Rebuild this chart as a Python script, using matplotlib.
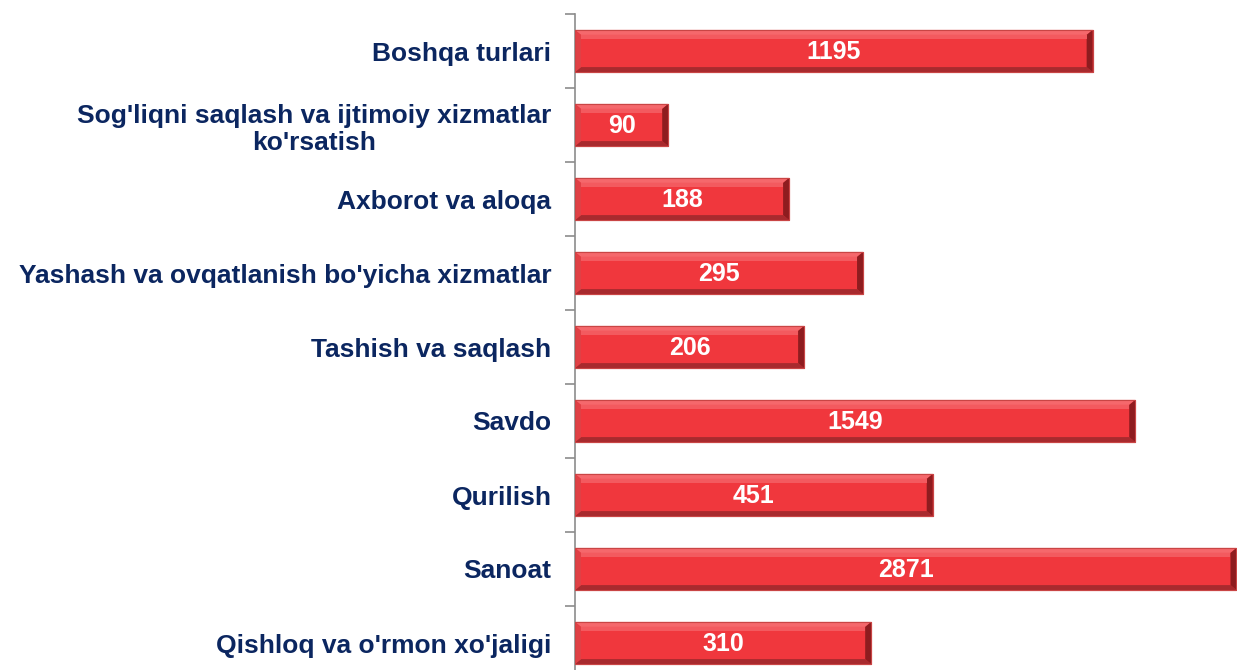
import matplotlib
matplotlib.use("Agg")
import matplotlib.pyplot as plt
from matplotlib.patches import Polygon
import numpy as np

categories = ["Boshqa turlari",
              "Sog'liqni saqlash va ijtimoiy xizmatlar\nko'rsatish",
              "Axborot va aloqa",
              "Yashash va ovqatlanish bo'yicha xizmatlar",
              "Tashish va saqlash",
              "Savdo",
              "Qurilish",
              "Sanoat",
              "Qishloq va o'rmon xo'jaligi"]
values = [1195, 90, 188, 295, 206, 1549, 451, 2871, 310]

plt.rcParams['font.family'] = ['Liberation Sans', 'DejaVu Sans']

W, H = 1237, 670
fig = plt.figure(figsize=(W/100, H/100), dpi=100)
ax_left = 575 / W
ax_top = 1 - 14 / H
ax_bot = 1 - 680 / H
ax = fig.add_axes([ax_left, ax_bot, 1 - ax_left, ax_top - ax_bot])

base = 51.0
xmax = 2880.0
ax.set_xscale('log')
ax.set_xlim(base, xmax)
n = len(categories)
ax.set_ylim(n - 0.5, -0.5)

bh = 0.57
y = np.arange(n)
bars = ax.barh(y, [v - base for v in values], left=base, height=bh,
               color='#F0373D', edgecolor='#C94545', linewidth=0.8, zorder=2)

# bevel decoration (pixel sizes converted to data units)
px_per_dec = (1 - ax_left) * W / np.log10(xmax / base)
px_per_unit = (ax_top - ax_bot) * H / n
bx = 10 ** (6 / px_per_dec)
by = 5 / px_per_unit
for yi, v in zip(y, values):
    x0, x1 = base, v
    xi0, xi1 = base * bx, v / bx
    yt, yb = yi - bh / 2, yi + bh / 2
    yti, ybi = yt + by, yb - by
    polys = [
        ([(x0, yt), (x1, yt), (xi1, yti), (xi0, yti)], '#F5686C'),   # top
        ([(x0, yb), (x1, yb), (xi1, ybi), (xi0, ybi)], '#A82A2E'),   # bottom
        ([(x0, yt), (xi0, yti), (xi0, ybi), (x0, yb)], '#E04045'),   # left
        ([(x1, yt), (xi1, yti), (xi1, ybi), (x1, yb)], '#8E1C1F'),   # right
    ]
    for pts, c in polys:
        ax.add_patch(Polygon(pts, closed=True, facecolor=c, edgecolor='none', zorder=3))
    ax.add_patch(Polygon([(xi0, yti), (xi1, yti), (xi1, yti + 0.06), (xi0, yti + 0.06)],
                         closed=True, facecolor='#F35A5F', edgecolor='none', zorder=3))
    ax.add_patch(Polygon([(x0, yt), (x1, yt), (x1, yb), (x0, yb)], closed=True,
                         facecolor='none', edgecolor='#C94545', linewidth=0.8, zorder=4))
    xc = np.sqrt(base * v)
    ax.text(xc, yi + 0.02, str(v), ha='center', va='center', color='white',
            fontsize=18, fontweight='bold', zorder=5)

for s in ['top', 'right', 'bottom']:
    ax.spines[s].set_visible(False)
ax.spines['left'].set_color('#8C8C8C')
ax.spines['left'].set_linewidth(1.2)
ax.set_xticks([])
ax.xaxis.set_minor_locator(matplotlib.ticker.NullLocator())
ax.set_yticks(y)
ax.set_yticklabels(categories, fontsize=19, fontweight='bold', color='#0B2660',
                   multialignment='center')
ax.tick_params(axis='y', which='major', length=0, pad=17)
ax.set_yticks(np.arange(-0.5, n, 1.0), minor=True)
ax.tick_params(axis='y', which='minor', length=7, width=1.2, color='#8C8C8C')
ax.patch.set_alpha(0)

fig.savefig('out.png', dpi=100)
